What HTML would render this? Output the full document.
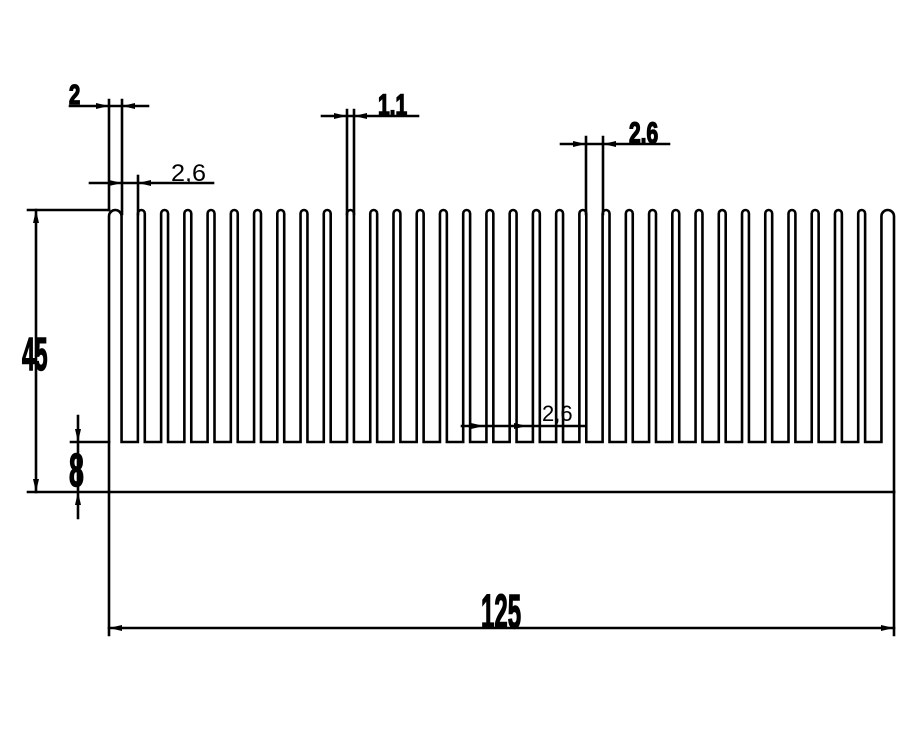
<!DOCTYPE html>
<html><head><meta charset="utf-8"><style>
html,body{margin:0;padding:0;background:#fff;width:910px;height:738px;overflow:hidden}
svg{display:block}
text{font-family:"Liberation Sans",sans-serif;font-weight:bold;fill:#000}
.h{stroke:#000;stroke-width:1.5}
</style></head><body>
<svg id="s" width="910" height="738" viewBox="0 0 910 738" xmlns="http://www.w3.org/2000/svg">
<g stroke="#000" stroke-width="2.6" fill="none" stroke-linecap="square">
<path id="fins" d=""/>
<line x1="28" y1="492" x2="894" y2="492"/>
<line x1="109" y1="492" x2="109" y2="635"/>
<line x1="894" y1="492" x2="894" y2="635"/>
<line x1="109" y1="628" x2="894" y2="628"/>
<line x1="28" y1="210" x2="109" y2="210"/>
<line x1="36" y1="210" x2="36" y2="492"/>
<line x1="71" y1="442" x2="109" y2="442"/>
<line x1="78" y1="416" x2="78" y2="518"/>
<line x1="70" y1="106" x2="148" y2="106"/>
<line x1="109" y1="100" x2="109" y2="210"/>
<line x1="122" y1="100" x2="122" y2="214"/>
<line x1="90" y1="183" x2="213" y2="183"/>
<line x1="138" y1="176" x2="138" y2="214"/>
<line x1="322" y1="116" x2="418" y2="116"/>
<line x1="347" y1="110" x2="347" y2="214"/>
<line x1="354" y1="110" x2="354" y2="214"/>
<line x1="561" y1="144" x2="669" y2="144"/>
<line x1="586" y1="137" x2="586" y2="214"/>
<line x1="603" y1="137" x2="603" y2="214"/>
<line x1="462" y1="426" x2="585" y2="426"/>
</g>
<g fill="#000">
<polygon points="109,628 122,625 122,631"/>
<polygon points="894,628 881,625 881,631"/>
<polygon points="36,210 33,223 39,223"/>
<polygon points="36,492 33,479 39,479"/>
<polygon points="78,442 75,429 81,429"/>
<polygon points="78,492 75,505 81,505"/>
<polygon points="109,106 96,103 96,109"/>
<polygon points="122,106 135,103 135,109"/>
<polygon points="122,183 109,180 109,186"/>
<polygon points="138,183 151,180 151,186"/>
<polygon points="347,116 334,113 334,119"/>
<polygon points="354,116 367,113 367,119"/>
<polygon points="586,144 573,141 573,147"/>
<polygon points="603,144 616,141 616,147"/>
<polygon points="484,426 471,423 471,429"/>
<polygon points="527,426 514,423 514,429"/>
</g>
<text class="h" x="0" y="0" font-size="48" transform="translate(481,628) scale(0.5,1)">125</text>
<text class="h" x="0" y="0" font-size="46" transform="translate(22,370) scale(0.5,1)">45</text>
<text class="h" x="0" y="0" font-size="46" transform="translate(69,486) scale(0.58,1)">8</text>
<text class="h" x="0" y="0" font-size="28" transform="translate(69,104) scale(0.72,1)">2</text>
<text class="h" x="0" y="0" font-size="30" transform="translate(378,115) scale(0.7,1)">1.1</text>
<text class="h" x="0" y="0" font-size="30" transform="translate(629,143) scale(0.7,1)">2.6</text>
<text x="0" y="0" font-size="24" transform="translate(171,181) scale(1.05,1)" style="font-weight:normal" class="">2,6</text>
<text x="542" y="421" font-size="22" style="font-weight:normal">2,6</text>
</svg>
<script>
(function(){
var s=6.28, gap=2.6*s, tf=1.1*s, ef=2*s, top=210, bot=442;
var x=109, d="M109,492 L109,"+(top+ef/2);
function fin(w){var r=w/2; d+=" A"+r+","+r+" 0 0 1 "+(x+w)+","+(top+r); x+=w;}
fin(ef);
for(var k=0;k<32;k++){
 d+=" L"+x+","+bot+" L"+(x+gap)+","+bot; x+=gap; d+=" L"+x+","+(top+tf/2); fin(tf);
}
d+=" L"+x+","+bot+" L"+(x+gap)+","+bot; x+=gap; d+=" L"+x+","+(top+ef/2); fin(ef);
d+=" L"+x+",492";
document.getElementById("fins").setAttribute("d",d);
})();
</script>
</body></html>
